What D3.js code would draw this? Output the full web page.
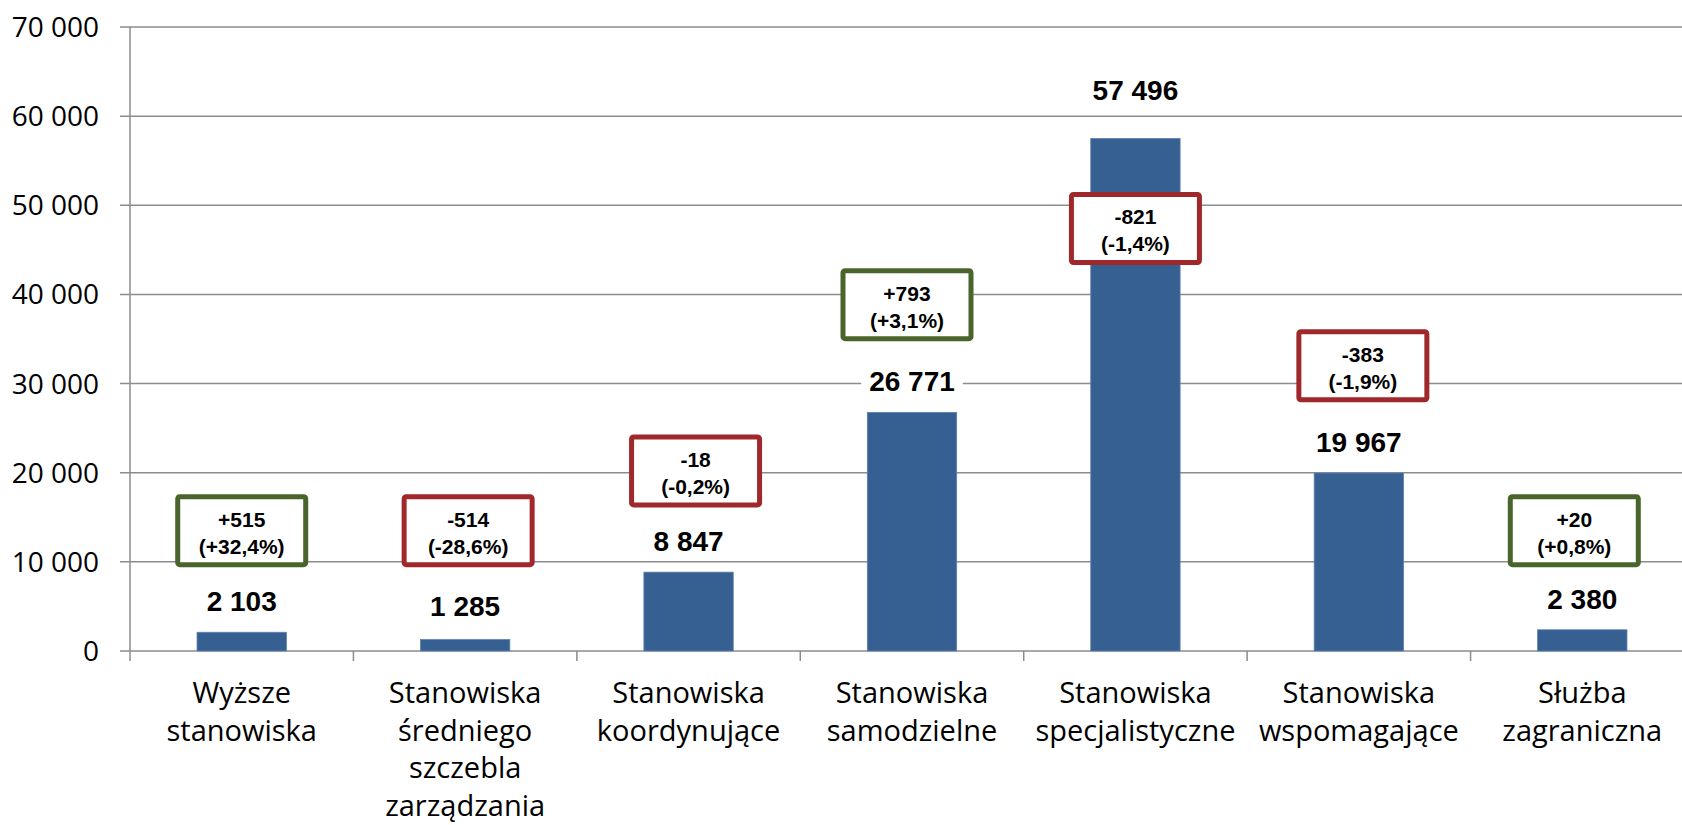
<!DOCTYPE html>
<html>
<head>
<meta charset="utf-8">
<script src="https://cdn.jsdelivr.net/npm/d3@7"></script>
<style>
  body { margin: 0; background: #fff; }
  svg { display: block; }
</style>
</head>
<body>
<div id="chart"></div>
<script>
const WIDTH = 1682;
const HEIGHT = 825;
const MARGINS = { left: 130, right: -12, top: 27, bottom: 174 };

// data
const CATEGORIES = [
  ["Wyższe", "stanowiska"],
  ["Stanowiska", "średniego", "szczebla", "zarządzania"],
  ["Stanowiska", "koordynujące"],
  ["Stanowiska", "samodzielne"],
  ["Stanowiska", "specjalistyczne"],
  ["Stanowiska", "wspomagające"],
  ["Służba", "zagraniczna"],
];
const VALUES = [2103, 1285, 8847, 26771, 57496, 19967, 2380];
const VALUE_LABELS = ["2 103", "1 285", "8 847", "26 771", "57 496", "19 967", "2 380"];
const CHANGE_LABELS = ["+515", "-514", "-18", "+793", "-821", "-383", "+20"];
const CHANGE_PCT = ["(+32,4%)", "(-28,6%)", "(-0,2%)", "(+3,1%)", "(-1,4%)", "(-1,9%)", "(+0,8%)"];
const Y_TICKS = [0, 10000, 20000, 30000, 40000, 50000, 60000, 70000];

// layout of the hand placed annotation boxes (centre level in data units, x shift in px)
const BOX_LEVEL = [13500, 13500, 20200, 38850, 47400, 32000, 13500];
const BOX_SHIFT = [0, 3, 7, -5, 0, 4, -8];
const LABEL_LIFT = [0, 3, 0, 0, 17, 0, 0];

const VIS_W = WIDTH - MARGINS.left - MARGINS.right;
const VIS_H = HEIGHT - MARGINS.top - MARGINS.bottom;

const svg = d3.select("#chart").append("svg")
  .attr("width", WIDTH).attr("height", HEIGHT);

const X = d3.scaleBand().domain(d3.range(VALUES.length)).range([MARGINS.left, MARGINS.left + VIS_W]).paddingInner(0.6).paddingOuter(0.3);
const XC = d3.scaleBand().domain(d3.range(VALUES.length)).range([MARGINS.left, MARGINS.left + VIS_W]);
const Y = d3.scaleLinear().domain([0, 70000]).range([MARGINS.top + VIS_H, MARGINS.top]);

const GRID = "#8c8c8c";
const fmt = (v) => d3.format(",")(v).replace(/,/g, " ");

// gridlines
svg.append("g").selectAll("line").data(Y_TICKS).enter().append("line")
  .attr("x1", MARGINS.left - 10).attr("x2", WIDTH)
  .attr("y1", (d) => Y(d)).attr("y2", (d) => Y(d))
  .attr("stroke", GRID).attr("stroke-width", 1.5);

// y axis line
svg.append("line")
  .attr("x1", MARGINS.left).attr("x2", MARGINS.left)
  .attr("y1", Y(70000)).attr("y2", Y(0) + 10)
  .attr("stroke", GRID).attr("stroke-width", 1.5);

// x ticks at category boundaries
svg.append("g").selectAll("line").data(d3.range(1, VALUES.length)).enter().append("line")
  .attr("x1", (i) => XC(i)).attr("x2", (i) => XC(i))
  .attr("y1", Y(0)).attr("y2", Y(0) + 10)
  .attr("stroke", GRID).attr("stroke-width", 1.5);

// y tick labels
svg.append("g").selectAll("text").data(Y_TICKS).enter().append("text")
  .attr("x", 99).attr("y", (d) => Y(d) + 10)
  .attr("text-anchor", "end")
  .style("font-family", "'Open Sans', sans-serif").style("font-size", "28px")
  .attr("fill", "#000")
  .text((d) => fmt(d));

// bars
svg.append("g").selectAll("rect").data(VALUES).enter().append("rect")
  .attr("x", (d, i) => X(i))
  .attr("y", (d) => Y(d))
  .attr("width", X.bandwidth())
  .attr("height", (d) => Y(0) - Y(d))
  .attr("fill", "#376092")
  .attr("stroke", "#5d82b0").attr("stroke-width", 0.8);

// category labels
const cat = svg.append("g").selectAll("text").data(CATEGORIES).enter().append("text")
  .attr("x", (d, i) => XC(i) + XC.bandwidth() / 2)
  .attr("y", 703)
  .attr("text-anchor", "middle")
  .style("font-family", "'Open Sans', sans-serif").style("font-size", "29px")
  .attr("fill", "#000");
cat.selectAll("tspan").data((d) => d).enter().append("tspan")
  .attr("x", function () { return d3.select(this.parentNode).attr("x"); })
  .attr("dy", (d, j) => (j === 0 ? 0 : 37.5))
  .text((d) => d);

// value labels with white background
const vl = svg.append("g").selectAll("g").data(VALUES).enter().append("g")
  .attr("transform", (d, i) => `translate(${XC(i) + XC.bandwidth() / 2},${Y(d) - 21 - LABEL_LIFT[i]})`);
vl.append("text")
  .attr("text-anchor", "middle")
  .style("font-family", "'Liberation Sans', Arial, sans-serif").style("font-size", "28px").style("font-weight", "bold")
  .attr("fill", "#000")
  .text((d, i) => VALUE_LABELS[i]);
vl.each(function () {
  const t = d3.select(this).select("text");
  const b = t.node().getBBox();
  d3.select(this).insert("rect", "text")
    .attr("x", b.x - 8).attr("y", b.y - 2)
    .attr("width", b.width + 16).attr("height", b.height + 4)
    .attr("fill", "#fff");
});

// change boxes
const BOX_W = 128, BOX_H = 68;
const boxes = svg.append("g").selectAll("g").data(CHANGE_LABELS).enter().append("g")
  .attr("transform", (d, i) => `translate(${XC(i) + XC.bandwidth() / 2 + BOX_SHIFT[i]},${Y(BOX_LEVEL[i])})`);
boxes.append("rect")
  .attr("x", -BOX_W / 2).attr("y", -BOX_H / 2)
  .attr("width", BOX_W).attr("height", BOX_H)
  .attr("rx", 2)
  .attr("fill", "#fff")
  .attr("stroke", (d) => (d.startsWith("+") ? "#4a652c" : "#a0282b"))
  .attr("stroke-width", 5);
boxes.append("text")
  .attr("y", -4).attr("text-anchor", "middle")
  .style("font-family", "'Liberation Sans', Arial, sans-serif").style("font-size", "21px").style("font-weight", "bold")
  .text((d) => d);
boxes.append("text")
  .attr("y", 23).attr("text-anchor", "middle")
  .style("font-family", "'Liberation Sans', Arial, sans-serif").style("font-size", "21px").style("font-weight", "bold")
  .text((d, i) => CHANGE_PCT[i]);
</script>
</body>
</html>
